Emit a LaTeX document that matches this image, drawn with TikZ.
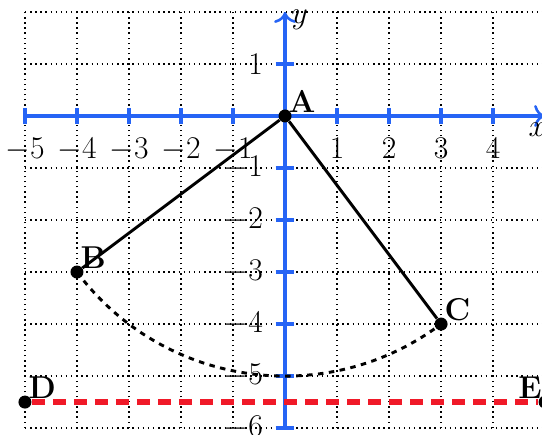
\documentclass[tikz,border=0pt]{standalone}
\usepackage{tikz}
\usetikzlibrary{arrows.meta}
\definecolor{colAX}{RGB}{38,100,245}
\definecolor{colDE}{RGB}{240,25,40}

\begin{document}
\begin{tikzpicture}[every node/.style={font=\LARGE},
    pt/.style={circle,fill=black,inner sep=0pt,minimum size=0.25cm},
    ptlab/.style={font=\LARGE\bfseries},
    axis/.style={colAX,line width=2.5pt},
    tck/.style={colAX,line width=2pt}]
  \useasboundingbox (-5.48,-6.12) rectangle (4.94,2.23);
  % dotted grid
  \draw[dotted,line width=0.8pt] (-5,-6) grid (5,2);
  % axes
  \draw[axis,-{Computer Modern Rightarrow[line width=1.4pt,length=6pt,width=12pt]}] (-5,0) -- (5,0);
  \draw[axis,-{Computer Modern Rightarrow[line width=1.4pt,length=6pt,width=12pt]}] (0,-6) -- (0,2);
  \node[below] (xlab) at (4.85,0) {$x$};
  \node[right] (ylab) at (0,1.85) {$y$};
  % ticks and numbers
  \foreach \x in {-5,...,4}{
    \draw[tck] (\x,-0.15) -- (\x,0.15);
  }
  \foreach \y in {-6,...,1}{
    \draw[tck] (-0.18,\y) -- (0.18,\y);
  }
  \foreach \x/\n in {-5/a,-4/b,-3/c,-2/d,-1/e,1/f,2/g,3/h,4/i}{
    \node[below] (xl\n) at (\x,-0.3) {$\x$};
  }
  \foreach \y/\n in {1/a,-1/b,-2/c,-3/d,-4/e,-5/f,-6/g}{
    \node[left] (yl\n) at (-0.3,\y) {$\y$};
  }
  % points
  \node[pt,label={[ptlab,label distance=-6pt]above right:A}] (A) at (0,0) {};
  \node[pt,label={[ptlab,label distance=-6pt]above right:B}] (B) at (-4,-3) {};
  \node[pt,label={[ptlab,label distance=-6pt]above right:C}] (C) at (3,-4) {};
  \node[pt,label={[ptlab,label distance=-6pt]above right:D}] (D) at (-5,-5.5) {};
  \node[pt,label={[ptlab,label distance=-6pt]above left:E}] (E) at (5,-5.5) {};
  % segments and arc of radius 5 round A
  \draw[line width=1.6pt] (A) -- (B) (A) -- (C);
  \draw[line width=1.6pt,dashed] (B.center) arc[start angle=216.87,end angle=306.87,radius=5];
  \draw[colDE,line width=3pt,dash pattern=on 7pt off 4.5pt] (D) -- (E);
\end{tikzpicture}
\end{document}
